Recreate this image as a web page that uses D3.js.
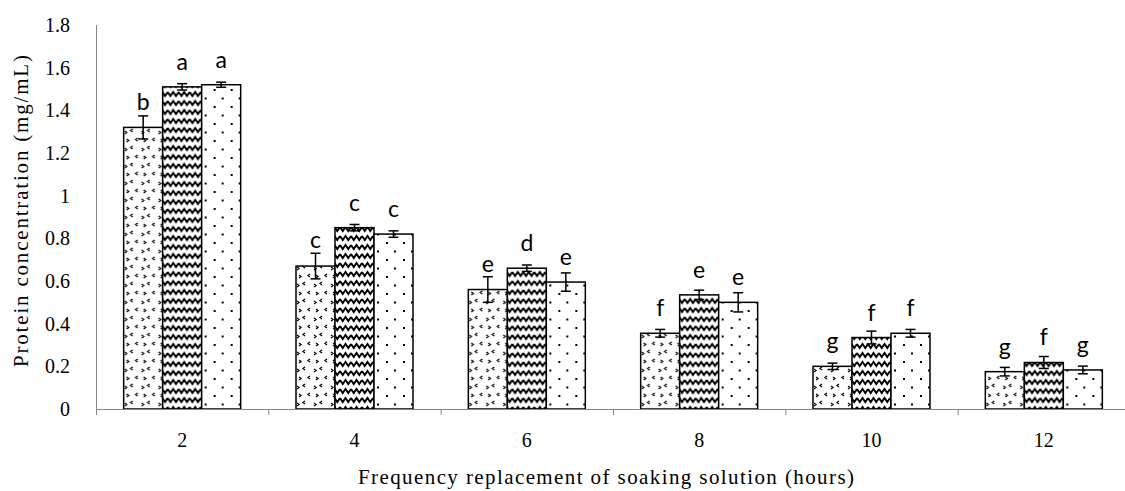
<!DOCTYPE html>
<html>
<head>
<meta charset="utf-8">
<script src="https://cdn.jsdelivr.net/npm/d3@7"></script>
<style>
  body { margin: 0; background: #fff; }
  svg { display: block; }
  .tick text { font-family: "Liberation Serif", serif; font-size: 20px; fill: #000; }
  .axis path, .axis line { stroke: #868686; }
  .letter { font-family: Lato, "Liberation Sans", sans-serif; font-size: 23px; fill: #000; }
  .title { font-family: "Liberation Serif", serif; font-size: 21px; fill: #000; }
</style>
</head>
<body>
<script>

// ---- data ----
const categories = ["2", "4", "6", "8", "10", "12"];
const series = ["s1", "s2", "s3"];
const values = [
    [1.32, 1.51, 1.52],
    [0.67, 0.85, 0.82],
    [0.56, 0.66, 0.595],
    [0.355, 0.535, 0.50],
    [0.20, 0.335, 0.355],
    [0.175, 0.218, 0.183]
];
const errors = [
    [0.054, 0.015, 0.012],
    [0.06, 0.015, 0.015],
    [0.06, 0.015, 0.043],
    [0.018, 0.022, 0.045],
    [0.015, 0.03, 0.018],
    [0.02, 0.028, 0.018]
];
const letters = [
    ["b", "a", "a"],
    ["c", "c", "c"],
    ["e", "d", "e"],
    ["f", "e", "e"],
    ["g", "f", "f"],
    ["g", "f", "g"]
];
const yTicks = [0, 0.2, 0.4, 0.6, 0.8, 1, 1.2, 1.4, 1.6, 1.8];

const width = 1125, height = 491;
const margin = {left: 96, top: 25, bottom: 82};
const innerHeight = height - margin.top - margin.bottom;   // 384
const xRight = 1130;   // axis runs past the right edge in the original

const svg = d3.select("body").append("svg")
    .attr("width", width)
    .attr("height", height);

// ---- patterns ----
const defs = svg.append("defs");

// confetti of small chevrons
const p1 = defs.append("pattern")
    .attr("id", "pat0").attr("patternUnits", "userSpaceOnUse")
    .attr("width", 17).attr("height", 17);
p1.append("rect").attr("width", 17).attr("height", 17).attr("fill", "#fff");
p1.append("path")
    .attr("d", "M3,3 l2,1.5 l-2,1.5 M14,2 l-2,1.5 l2,1.5 M9,10 l-2,1.5 l2,1.5 M1,12 l2,1.5 l-2,1.5")
    .attr("fill", "none").attr("stroke", "#000").attr("stroke-width", 1.3);

// zigzag waves
const p2 = defs.append("pattern")
    .attr("id", "pat1").attr("patternUnits", "userSpaceOnUse")
    .attr("width", 11).attr("height", 9);
p2.append("rect").attr("width", 11).attr("height", 9).attr("fill", "#fff");
p2.append("path")
    .attr("d", "M0,2 L2.75,6 L5.5,2 L8.25,6 L11,2")
    .attr("fill", "none").attr("stroke", "#000").attr("stroke-width", 1.9);

// sparse dots
const p3 = defs.append("pattern")
    .attr("id", "pat2").attr("patternUnits", "userSpaceOnUse")
    .attr("width", 17).attr("height", 17);
p3.append("rect").attr("width", 17).attr("height", 17).attr("fill", "#fff");
p3.append("rect").attr("x", 5).attr("y", 4).attr("width", 2).attr("height", 2).attr("fill", "#000");
p3.append("rect").attr("x", 13).attr("y", 12.5).attr("width", 2).attr("height", 2).attr("fill", "#000");

// ---- scales ----
const xScale = d3.scaleBand()
    .domain(categories)
    .range([margin.left, xRight])
    .paddingInner(0)
    .paddingOuter(0);

const xSub = d3.scaleBand()
    .domain(series)
    .range([0, 117]);

const yScale = d3.scaleLinear()
    .domain([0, 1.8])
    .range([margin.top + innerHeight, margin.top]);

const groupOffset = (xScale.bandwidth() - 117) / 2;

// ---- axes ----
const yAxis = svg.append("g")
    .attr("class", "axis")
    .attr("transform", `translate(${margin.left},0)`)
    .call(d3.axisLeft(yScale).tickValues(yTicks).tickSize(0).tickPadding(26)
        .tickFormat(d => d3.format("")(+d.toFixed(1))));
yAxis.select(".domain").attr("d", `M0.5,${yScale(1.8)}V${yScale(0)}`);

// bars
const barData = (d, i) => d.map((v, j) => ({v: v, e: errors[i][j], l: letters[i][j], s: j}));

const groups = svg.selectAll(".group")
    .data(values)
    .enter()
    .append("g")
    .attr("class", "group")
    .attr("transform", (d, i) => `translate(${xScale(categories[i]) + groupOffset},0)`);

groups.selectAll(".bar")
    .data(barData)
    .enter()
    .append("rect")
    .attr("class", "bar")
    .attr("x", d => xSub(series[d.s]))
    .attr("y", d => yScale(d.v))
    .attr("width", xSub.bandwidth())
    .attr("height", d => yScale(0) - yScale(d.v))
    .attr("fill", d => `url(#pat${d.s})`)
    .attr("stroke", "#000")
    .attr("stroke-width", 1.5);

// error bars
const err = groups.selectAll(".err")
    .data(barData)
    .enter()
    .append("g")
    .attr("class", "err")
    .attr("transform", d => `translate(${xSub(series[d.s]) + xSub.bandwidth() / 2},0)`);

err.append("line")
    .attr("y1", d => yScale(d.v + d.e)).attr("y2", d => yScale(d.v - d.e))
    .attr("stroke", "#000").attr("stroke-width", 1.5);
err.append("line")
    .attr("x1", -5).attr("x2", 5)
    .attr("y1", d => yScale(d.v + d.e)).attr("y2", d => yScale(d.v + d.e))
    .attr("stroke", "#000").attr("stroke-width", 1.5);
err.append("line")
    .attr("x1", -5).attr("x2", 5)
    .attr("y1", d => yScale(d.v - d.e)).attr("y2", d => yScale(d.v - d.e))
    .attr("stroke", "#000").attr("stroke-width", 1.5);

// significance letters, sitting above the bar top (and clear of the cap)
err.append("text")
    .attr("class", "letter")
    .attr("text-anchor", "middle")
    .attr("y", d => Math.min(yScale(d.v) - 17, yScale(d.v + d.e) - 5))
    .text(d => d.l);

// x axis drawn on top of bars
const xAxis = svg.append("g")
    .attr("class", "axis")
    .attr("transform", `translate(0,${yScale(0)})`)
    .call(d3.axisBottom(xScale).tickSize(0).tickPadding(24));
xAxis.select(".domain").attr("d", `M${margin.left},0.5H${width}`).attr("stroke-width", 1.2);

svg.append("g")
    .selectAll("line")
    .data(categories)
    .enter()
    .append("line")
    .attr("x1", d => xScale(d) + 0.5)
    .attr("x2", d => xScale(d) + 0.5)
    .attr("y1", yScale(0))
    .attr("y2", yScale(0) + 6)
    .attr("stroke", "#868686");

// titles
svg.append("text")
    .attr("class", "title")
    .attr("text-anchor", "middle")
    .attr("transform", `translate(28,${margin.top + innerHeight / 2 - 6}) rotate(-90)`)
    .attr("textLength", 312)
    .attr("lengthAdjust", "spacing")
    .text("Protein concentration (mg/mL)");

svg.append("text")
    .attr("class", "title")
    .attr("text-anchor", "middle")
    .attr("x", 606)
    .attr("y", 484)
    .attr("textLength", 496)
    .attr("lengthAdjust", "spacing")
    .text("Frequency replacement of soaking solution (hours)");

</script>
</body>
</html>
